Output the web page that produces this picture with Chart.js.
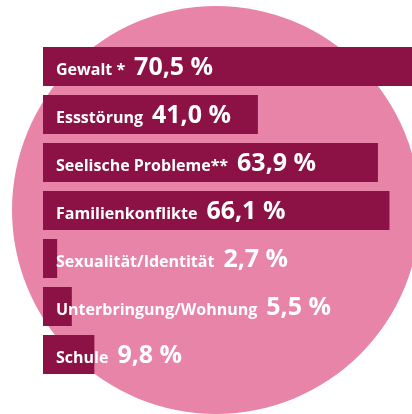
<!DOCTYPE html>
<html>
<head>
<meta charset="utf-8">
<script src="https://cdn.jsdelivr.net/npm/chart.js@4"></script>
<style>
  body { margin: 0; background: #fff; }
  #wrap { width: 412px; height: 414px; position: relative; }
</style>
</head>
<body>
<div id="wrap"><canvas id="chart"></canvas></div>
<script>
const categories = ['Gewalt *', 'Essstörung', 'Seelische Probleme**', 'Familienkonflikte', 'Sexualität/Identität', 'Unterbringung/Wohnung', 'Schule'];
const percentages = [70.5, 41.0, 63.9, 66.1, 2.7, 5.5, 9.8];

const barColor = '#8c1145';
const circleColor = '#e784a8';

// pink circle behind the bars
const circleBg = {
    id: 'circleBg',
    beforeDraw(chart) {
        const ctx = chart.ctx;
        ctx.save();
        ctx.fillStyle = circleColor;
        ctx.beginPath();
        ctx.arc(216, 210, 204, 0, Math.PI * 2);
        ctx.fill();
        ctx.restore();
    }
};

// label + value written over each bar
const barText = {
    id: 'barText',
    afterDatasetsDraw(chart) {
        const ctx = chart.ctx;
        const meta = chart.getDatasetMeta(0);
        const left = chart.chartArea.left;
        ctx.save();
        ctx.fillStyle = '#fff';
        ctx.textBaseline = 'alphabetic';
        meta.data.forEach((bar, i) => {
            const y = bar.y + 8.5;
            let x = left + 13;
            ctx.font = 'bold 16px "Open Sans"';
            ctx.fillText(categories[i], x, y);
            x += ctx.measureText(categories[i]).width + 9;
            ctx.font = 'bold 25px "Open Sans"';
            ctx.fillText(percentages[i].toFixed(1).replace('.', ',') + ' %', x, y);
        });
        ctx.restore();
    }
};

new Chart(document.getElementById('chart'), {
    type: 'bar',
    data: {
        labels: categories,
        datasets: [{
            data: percentages,
            backgroundColor: barColor,
            borderWidth: 0,
            barPercentage: 0.8125,
            categoryPercentage: 1
        }]
    },
    options: {
        indexAxis: 'y',
        responsive: true,
        maintainAspectRatio: false,
        animation: false,
        layout: { padding: { left: 43, top: 42.5, right: 0, bottom: 35.5 } },
        scales: {
            x: { display: false, min: 0, max: 70.4 },
            y: { display: false }
        },
        plugins: {
            legend: { display: false },
            tooltip: { enabled: false }
        }
    },
    plugins: [circleBg, barText]
});
</script>
</body>
</html>
